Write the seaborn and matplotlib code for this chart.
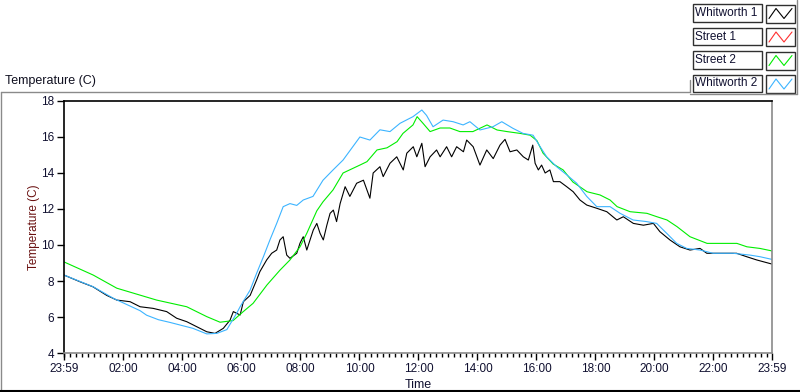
import numpy as np
import pandas as pd
import matplotlib
matplotlib.use("Agg")
import matplotlib.pyplot as plt
import seaborn as sns
from matplotlib.lines import Line2D
from matplotlib.patches import Rectangle

sns.set_style("ticks")
plt.rcParams['font.family'] = ['Liberation Sans', 'DejaVu Sans']

# ---- data (hours since 23:59 start, temperature in C) ----
series_names = ["Whitworth 1", "Street 1", "Street 2", "Whitworth 2"]
series_colors = ["#000000", "#ff3030", "#00ee00", "#3cb4ff"]

whitworth1_h = [0, 0.54, 0.98, 1.45, 1.79, 2.24, 2.58, 3.02, 3.48, 3.82, 4.16, 4.50, 4.84, 5.12,
                5.40, 5.63, 5.74, 5.97, 6.08, 6.31, 6.53, 6.64, 6.87, 7.04, 7.21, 7.32, 7.43, 7.55,
                7.66, 7.89, 8.00, 8.11, 8.23, 8.34, 8.45, 8.57, 8.68, 8.79, 8.91, 9.02, 9.13, 9.24,
                9.36, 9.53, 9.69, 9.92, 10.15, 10.37, 10.48, 10.71, 10.82, 11.05, 11.28, 11.50,
                11.62, 11.84, 11.96, 12.13, 12.24, 12.41, 12.63, 12.75, 12.97, 13.14, 13.31, 13.54,
                13.65, 13.87, 14.10, 14.33, 14.55, 14.78, 14.95, 15.12, 15.35, 15.57, 15.74, 15.89,
                15.97, 16.08, 16.19, 16.31, 16.47, 16.59, 16.81, 17.04, 17.26, 17.49, 17.72, 18.06,
                18.40, 18.74, 18.96, 19.30, 19.64, 19.98, 20.20, 20.54, 20.88, 21.22, 21.56, 21.79,
                22.24, 22.80, 23.14, 23.48, 24.0]
whitworth1_t = [8.33, 7.96, 7.68, 7.2, 6.94, 6.85, 6.57, 6.48, 6.3, 5.93, 5.74, 5.46, 5.18, 5.09,
                5.37, 5.83, 6.3, 6.11, 6.85, 7.2, 8.06, 8.52, 9.17, 9.54, 9.72, 10.28, 10.46, 9.44,
                9.26, 9.54, 10.1, 10.46, 9.72, 10.28, 10.83, 11.2, 10.65, 10.28, 11.1, 11.76, 11.94, 11.3,
                12.3, 13.24, 12.7, 13.43, 13.6, 12.6, 14.0, 14.35, 13.8, 14.54, 14.9, 14.17,
                15.1, 15.46, 14.9, 15.65, 14.35, 14.9, 15.28, 14.9, 15.46, 14.9, 15.46, 15.18,
                15.83, 15.46, 14.44, 15.28, 14.8, 15.55, 15.87, 15.18, 15.28, 14.9, 14.72, 15.55,
                14.54, 14.17, 14.44, 14.0, 14.17, 13.52, 13.52, 13.24, 12.96, 12.5, 12.22, 12.04,
                11.85, 11.39, 11.57, 11.2, 11.1, 11.2, 10.74, 10.28, 9.9, 9.72, 9.81, 9.54,
                9.54, 9.54, 9.35, 9.17, 8.94]

street1_h = []
street1_t = []

street2_h = [0, 0.99, 1.79, 3.14, 4.16, 4.84, 5.29, 5.73, 6.07, 6.41, 6.88, 7.32, 7.66, 8.0, 8.23,
             8.57, 8.78, 9.12, 9.46, 10.03, 10.27, 10.61, 10.95, 11.29, 11.49, 11.83, 11.97, 12.17,
             12.41, 12.75, 13.08, 13.42, 13.86, 14.34, 14.68, 15.02, 15.46, 15.8, 16.03, 16.24,
             16.58, 16.92, 17.25, 17.73, 18.17, 18.51, 18.75, 19.19, 19.76, 20.1, 20.44, 20.78,
             21.22, 21.8, 22.24, 22.81, 23.15, 23.59, 24.0]
street2_t = [9.06, 8.33, 7.6, 6.94, 6.57, 6.02, 5.71, 5.8, 6.29, 6.76, 7.78, 8.6, 9.17, 9.9, 10.65,
             11.9, 12.4, 13.06, 14.0, 14.44, 14.63, 15.28, 15.4, 15.74, 16.2, 16.67, 17.13, 16.76,
             16.3, 16.5, 16.5, 16.3, 16.3, 16.67, 16.39, 16.3, 16.2, 16.1, 15.8, 15.1,
             14.5, 14.17, 13.5, 12.96, 12.78, 12.5, 12.13, 11.85, 11.76, 11.57, 11.39, 11.02,
             10.46, 10.09, 10.09, 10.09, 9.9, 9.81, 9.67]

whitworth2_h = [0, 0.99, 1.67, 2.58, 2.8, 3.2, 3.59, 4.37, 4.84, 5.18, 5.52, 5.85, 5.97, 6.31, 6.53,
                6.76, 6.98, 7.21, 7.43, 7.66, 7.89, 8.11, 8.44, 8.78, 9.12, 9.46, 10.03, 10.37,
                10.71, 11.05, 11.39, 11.83, 12.13, 12.29, 12.51, 12.85, 13.19, 13.53, 13.76, 14.1,
                14.54, 14.84, 15.22, 15.56, 15.9, 16.14, 16.36, 16.7, 17.04, 17.38, 17.72, 18.06,
                18.51, 18.85, 19.29, 19.75, 20.09, 20.43, 20.77, 21.11, 21.56, 22.0, 22.68, 23.25,
                23.59, 24.0]
whitworth2_t = [8.33, 7.68, 7.04, 6.35, 6.1, 5.85, 5.7, 5.37, 5.06, 5.09, 5.3, 6.2, 6.57, 7.5, 8.43,
                9.35, 10.28, 11.2, 12.13, 12.3, 12.2, 12.5, 12.7, 13.6, 14.17, 14.72, 16.0, 15.83,
                16.4, 16.3, 16.76, 17.13, 17.5, 17.2, 16.57, 16.94, 16.85, 16.67, 16.85, 16.39,
                16.57, 16.85, 16.48, 16.2, 16.1, 15.46, 14.9, 14.35, 13.9, 13.43, 12.7, 12.13,
                12.13, 11.76, 11.39, 11.3, 11.2, 10.65, 10.09, 9.81, 9.72, 9.54, 9.54, 9.44,
                9.35, 9.2]

x_tick_labels = ["23:59", "02:00", "04:00", "06:00", "08:00", "10:00", "12:00",
                 "14:00", "16:00", "18:00", "20:00", "22:00", "23:59"]
y_ticks = [4, 6, 8, 10, 12, 14, 16, 18]

# ---- build long table ----
frames = []
for name, h, t in zip(series_names,
                      [whitworth1_h, street1_h, street2_h, whitworth2_h],
                      [whitworth1_t, street1_t, street2_t, whitworth2_t]):
    frames.append(pd.DataFrame({"hours": np.array(h, dtype=float),
                                "temp": np.array(t, dtype=float),
                                "series": name}))
df = pd.concat(frames, ignore_index=True)
palette = dict(zip(series_names, series_colors))

W, H = 800, 392
fig = plt.figure(figsize=(W / 100, H / 100), dpi=100)
fig.patch.set_facecolor("white")

def fx(x):
    return x / W

def fy(y):
    return 1 - y / H

ax = fig.add_axes([fx(64), fy(353), (772 - 64) / W, (353 - 101) / H])
sns.lineplot(data=df, x="hours", y="temp", hue="series", hue_order=series_names,
             palette=palette, ax=ax, legend=False, linewidth=0.8, sort=False,
             estimator=None)

ax.set_xlim(0, 24)
ax.set_ylim(4, 18)
major_x = [0] + [2 * k + 1 / 60 for k in range(1, 12)] + [24]
ax.set_xticks(major_x)
ax.set_xticklabels(x_tick_labels)
minor_x = [1 / 60 + 0.2 * k for k in range(0, 120) if 0 < 1 / 60 + 0.2 * k < 24]
ax.set_xticks(minor_x, minor=True)
ax.set_yticks(y_ticks)
ax.set_yticklabels([str(v) for v in y_ticks])

ax.tick_params(axis="both", which="major", direction="out", length=5, width=1,
               color="black", labelsize=8.5, pad=2, labelcolor="#101030")
ax.tick_params(axis="x", which="minor", direction="out", length=3, width=1, color="black")
for side in ["left", "top"]:
    ax.spines[side].set_color("black")
    ax.spines[side].set_linewidth(1.2)
for side in ["right", "bottom"]:
    ax.spines[side].set_color("#8a8a8a")
    ax.spines[side].set_linewidth(1.2)
    ax.spines[side].set_visible(True)

ax.set_xlabel("Time", fontsize=9, color="#101030", labelpad=3)
ax.set_ylabel("Temperature (C)", fontsize=8.5, color="#6a1010", labelpad=1)

# chart caption
fig.text(fx(5), fy(81), "Temperature (C)", fontsize=9, va="center", ha="left", color="#101020")

# outer frame lines
def fline(x0, y0, x1, y1, color, lw=1.0):
    fig.add_artist(Line2D([fx(x0), fx(x1)], [fy(y0), fy(y1)], transform=fig.transFigure,
                          color=color, linewidth=lw))

fline(0.5, 92, 690, 92, "#8a8a8a")
fline(0.5, 92, 0.5, 391, "#8a8a8a")
fline(0, 391, 800, 391, "black", 1.5)
fline(690, 92, 690, 80, "#8a8a8a")
fline(690, 94, 797, 94, "#8a8a8a")
fline(797, 0, 797, 94, "#8a8a8a")

# legend (text box + swatch box per plot)
for i, (name, col) in enumerate(zip(series_names, series_colors)):
    top = 4.5 + 23.5 * i
    fig.add_artist(Rectangle((fx(693), fy(top + 17)), 69 / W, 17 / H,
                             transform=fig.transFigure, facecolor="white",
                             edgecolor="#303030", linewidth=1.0))
    fig.text(fx(695), fy(top + 8.5), name, fontsize=8.5, va="center", ha="left", color="#101030")
    fig.add_artist(Rectangle((fx(766), fy(top + 18)), 29 / W, 18 / H,
                             transform=fig.transFigure, facecolor="white",
                             edgecolor="#303030", linewidth=1.0))
    zx = [769, 776, 784, 792]
    zy = [top + 14, top + 4, top + 14, top + 4]
    fig.add_artist(Line2D([fx(v) for v in zx], [fy(v) for v in zy], transform=fig.transFigure,
                          color=col, linewidth=0.8))

fig.savefig("out.png", dpi=100, facecolor="white")
